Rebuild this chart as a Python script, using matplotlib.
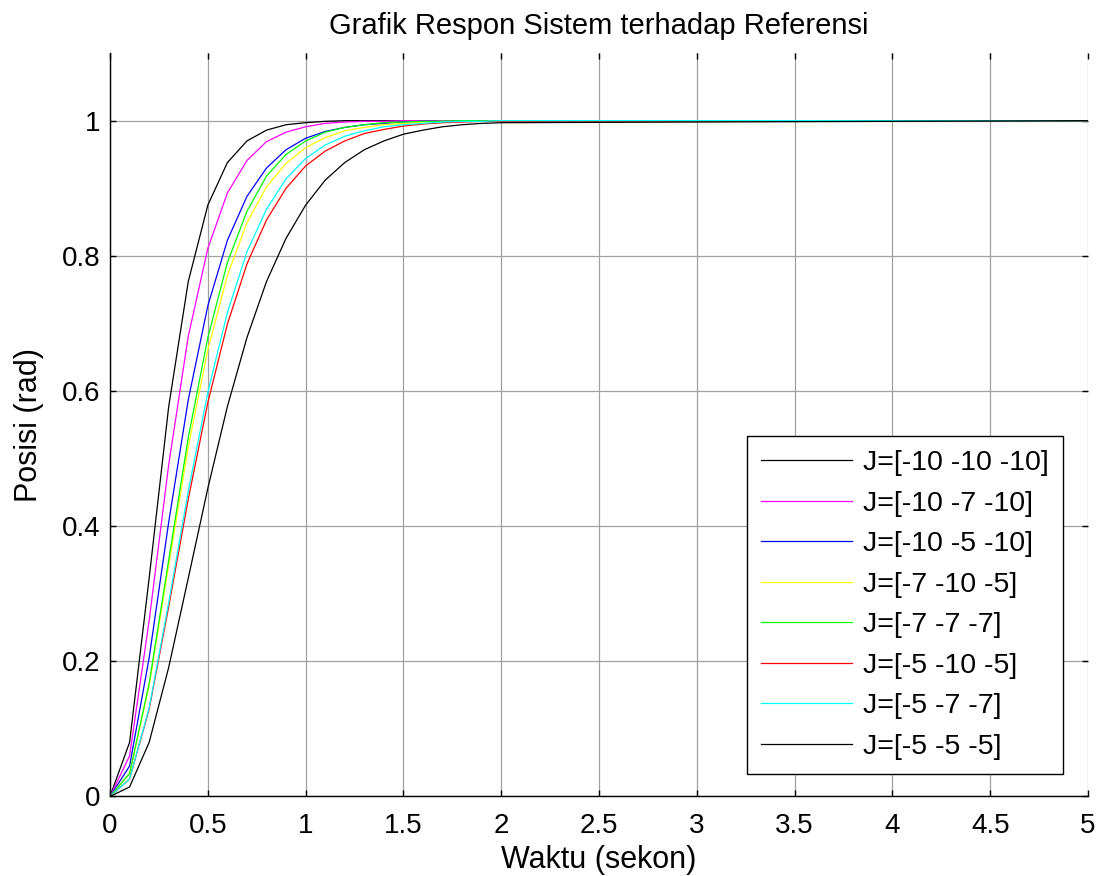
import matplotlib
matplotlib.use("Agg")
import matplotlib.pyplot as plt


# -----------------------------
# Data
# -----------------------------
time_s = [0.0, 0.1, 0.2, 0.3, 0.4, 0.5, 0.6, 0.7, 0.8, 0.9, 1.0,
          1.1, 1.2, 1.3, 1.4, 1.5, 1.6, 1.7, 1.8, 1.9, 2.0, 5.0]

j_10_10_10 = [0, 0.080, 0.323, 0.577, 0.762, 0.875, 0.938, 0.970, 0.986, 0.994, 0.997,
              0.999, 1.0, 1.0, 1.0, 1.0, 1.0, 1.0, 1.0, 1.0, 1.0, 1.0]
j_10_7_10 = [0, 0.060, 0.260, 0.491, 0.681, 0.811, 0.893, 0.941, 0.969, 0.983, 0.991,
             0.996, 0.998, 0.999, 0.999, 1.0, 1.0, 1.0, 1.0, 1.0, 1.0, 1.0]
j_10_5_10 = [0, 0.045, 0.205, 0.406, 0.587, 0.726, 0.823, 0.888, 0.930, 0.957, 0.974,
             0.984, 0.990, 0.994, 0.996, 0.998, 0.999, 0.999, 1.0, 1.0, 1.0, 1.0]
j_7_10_5 = [0, 0.034, 0.164, 0.342, 0.517, 0.661, 0.771, 0.849, 0.902, 0.937, 0.960,
            0.975, 0.985, 0.990, 0.994, 0.996, 0.998, 0.999, 0.999, 1.0, 1.0, 1.0]
j_7_7_7 = [0, 0.034, 0.167, 0.350, 0.531, 0.679, 0.790, 0.866, 0.918, 0.950, 0.970,
           0.983, 0.990, 0.994, 0.997, 0.998, 0.999, 0.999, 1.0, 1.0, 1.0, 1.0]
j_5_10_5 = [0, 0.026, 0.129, 0.281, 0.440, 0.583, 0.699, 0.788, 0.853, 0.900, 0.933,
            0.955, 0.970, 0.981, 0.987, 0.992, 0.995, 0.997, 0.998, 0.999, 0.999, 1.0]
j_5_7_7 = [0, 0.026, 0.131, 0.287, 0.452, 0.598, 0.716, 0.806, 0.869, 0.914, 0.944,
           0.964, 0.977, 0.985, 0.991, 0.994, 0.996, 0.998, 0.999, 0.999, 1.0, 1.0]
j_5_5_5 = [0, 0.014, 0.080, 0.191, 0.323, 0.456, 0.577, 0.679, 0.762, 0.826, 0.875,
           0.912, 0.938, 0.957, 0.970, 0.980, 0.986, 0.991, 0.994, 0.996, 0.997, 1.0]

series = [j_10_10_10, j_10_7_10, j_10_5_10, j_7_10_5, j_7_7_7, j_5_10_5, j_5_7_7, j_5_5_5]
labels = ["J=[-10 -10 -10]", "J=[-10 -7 -10]", "J=[-10 -5 -10]", "J=[-7 -10 -5]",
          "J=[-7 -7 -7]", "J=[-5 -10 -5]", "J=[-5 -7 -7]", "J=[-5 -5 -5]"]
colors = ["#000000", "#ff00ff", "#0000ff", "#ffff00",
          "#00ff00", "#ff0000", "#00ffff", "#000000"]

x_ticks = [0, 0.5, 1, 1.5, 2, 2.5, 3, 3.5, 4, 4.5, 5]
x_tick_labels = ["0", "0.5", "1", "1.5", "2", "2.5", "3", "3.5", "4", "4.5", "5"]
y_ticks = [0, 0.2, 0.4, 0.6, 0.8, 1.0]
y_tick_labels = ["0", "0.2", "0.4", "0.6", "0.8", "1"]


# -----------------------------
# Plot
# -----------------------------
def main():
    plt.rcParams["font.family"] = ["Liberation Sans", "DejaVu Sans"]

    fig = plt.figure(figsize=(11.08, 8.76), dpi=100)
    ax = fig.add_axes([0.0993, 0.0908, 0.8827, 0.8486])

    for values, label, color in zip(series, labels, colors):
        ax.plot(time_s, values, color=color, linewidth=0.9, label=label)

    ax.set_xlim(0, 5)
    ax.set_ylim(0, 1.1)
    ax.set_xticks(x_ticks)
    ax.set_xticklabels(x_tick_labels)
    ax.set_yticks(y_ticks)
    ax.set_yticklabels(y_tick_labels)

    ax.grid(True, color="#a0a0a0", linewidth=0.9)
    ax.set_axisbelow(True)
    ax.spines["top"].set_visible(False)
    ax.spines["right"].set_visible(False)
    ax.spines["left"].set_linewidth(1.0)
    ax.spines["bottom"].set_linewidth(1.0)
    ax.tick_params(direction="in", length=4, width=1.0, top=True, right=True,
                   labelsize=20)
    ax.tick_params(axis="x", pad=12)
    ax.tick_params(axis="y", pad=7)

    ax.set_title("Grafik Respon Sistem terhadap Referensi", fontsize=21, pad=14)
    ax.set_xlabel("Waktu (sekon)", fontsize=22, labelpad=4)
    ax.set_ylabel("Posisi (rad)", fontsize=22, labelpad=13)

    legend = ax.legend(loc="upper left", bbox_to_anchor=(0.651, 0.485),
                       fontsize=20.5, frameon=True, fancybox=False,
                       handlelength=3.2, handletextpad=0.4, borderpad=0.5,
                       labelspacing=0.51, borderaxespad=0)
    legend.get_frame().set_edgecolor("black")
    legend.get_frame().set_linewidth(1.0)
    legend.get_frame().set_alpha(1.0)

    fig.savefig("out.png", dpi=100)
    plt.close(fig)


if __name__ == "__main__":
    main()
